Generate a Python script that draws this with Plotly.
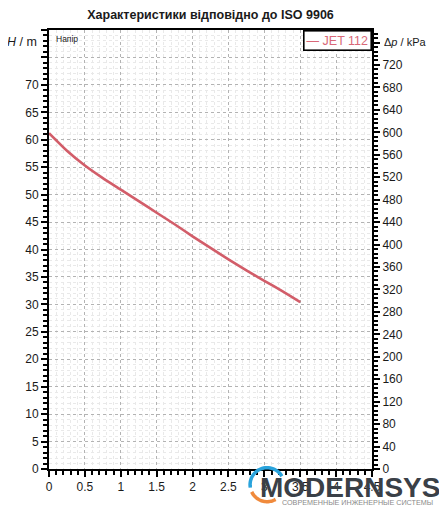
import numpy as np
import plotly.graph_objects as go

# ---- data ----
flow_q = [0.0, 0.25, 0.5, 0.75, 1.0, 1.25, 1.5, 1.75, 2.0, 2.25, 2.5, 2.75, 3.0, 3.25, 3.5]
head_h = [61.2, 58.0, 55.3, 53.0, 50.9, 48.8, 46.7, 44.6, 42.4, 40.3, 38.2, 36.2, 34.3, 32.4, 30.4]
series_name = "JET 112"
x_ticks = [0, 0.5, 1, 1.5, 2, 2.5, 3, 3.5, 4, 4.5]
x_ticktext = ["0", "0.5", "1", "1.5", "2", "2.5", "3", "3.5", "4", "4.5"]
h_ticks = list(range(0, 85, 5))
h_ticktext = [str(v) if v <= 70 else "" for v in h_ticks]
p_ticks = list(range(0, 800, 40))
p_ticktext = [str(v) if v <= 720 else "" for v in p_ticks]
KPA_PER_M = 9.779

LINE_COL = "#d25d69"
FONT = "Liberation Sans, Arial, sans-serif"
OFF = 8  # page body margin

fig = go.Figure()
fig.add_trace(go.Scatter(x=flow_q, y=head_h, mode="lines", name=series_name,
                         line=dict(color=LINE_COL, width=2.6, shape="spline", smoothing=0.6),
                         showlegend=False))
fig.add_trace(go.Scatter(x=[None], y=[None], yaxis="y2", showlegend=False))

axis_common = dict(showline=True, linecolor="black", linewidth=2,
                   ticks="outside", tickcolor="black", tickwidth=2, ticklen=6,
                   tickfont=dict(size=12, color="#1a1a1a", family=FONT),
                   zeroline=False, automargin=False)

fig.update_layout(
    width=447 - OFF, height=509 - OFF,
    margin=dict(l=49 - OFF, r=75, t=30 - OFF, b=40, autoexpand=False),
    paper_bgcolor="white", plot_bgcolor="white",
    font=dict(family=FONT),
    title=dict(text="<b>Характеристики відповідно до ISO 9906</b>",
               x=0.5, xref="paper", xanchor="center", y=1 - 7 / 501, yanchor="middle",
               font=dict(size=12.5, color="#1a1a1a", family=FONT)),
    xaxis=dict(range=[0, 4.5], tickmode="array", tickvals=x_ticks, ticktext=x_ticktext,
               showgrid=True, gridcolor="#b3b3b3", griddash="dot", gridwidth=1,
               mirror=True,
               minor=dict(dtick=0.1, tick0=0, ticklen=4, tickwidth=1.5, tickcolor="black",
                          showgrid=True, gridcolor="#e9e9e9", gridwidth=1),
               **axis_common),
    yaxis=dict(range=[0, 80], tickmode="array", tickvals=h_ticks, ticktext=h_ticktext,
               showgrid=True, gridcolor="#b3b3b3", griddash="dot", gridwidth=1,
               mirror=True,
               minor=dict(dtick=1, tick0=0, ticklen=4, tickwidth=1.5, tickcolor="black",
                          showgrid=True, gridcolor="#e9e9e9", gridwidth=1),
               **axis_common),
    yaxis2=dict(range=[0, 80 * KPA_PER_M], overlaying="y", side="right",
                tickmode="array", tickvals=p_ticks, ticktext=p_ticktext,
                showgrid=False,
                minor=dict(dtick=8, tick0=0, ticklen=4, tickwidth=1.5, tickcolor="black"),
                **axis_common),
)

def px2paper(px, py):
    return (px - 49.3) / 322.4, (469.3 - py) / 439.3

fig.add_annotation(text="<i>H</i> / m", xref="paper", yref="paper",
                   x=px2paper(39, 0)[0], y=px2paper(0, 42)[1],
                   xanchor="right", yanchor="middle", showarrow=False,
                   font=dict(size=12.5, color="#1a1a1a", family=FONT))
fig.add_annotation(text="Δ<i>p</i> / kPa", xref="paper", yref="paper",
                   x=px2paper(382, 0)[0], y=px2paper(0, 42)[1],
                   xanchor="left", yanchor="middle", showarrow=False,
                   font=dict(size=11, color="#1a1a1a", family=FONT))
fig.add_annotation(text="Напір", xref="paper", yref="paper", x=0.014, y=0.995,
                   xanchor="left", yanchor="top", showarrow=False,
                   font=dict(size=8.5, color="#1a1a1a", family=FONT))
fig.add_annotation(text="— " + series_name, xref="paper", yref="paper", x=1.0, y=1.0,
                   xanchor="right", yanchor="top", showarrow=False,
                   bgcolor="white", bordercolor="black", borderwidth=1.6, borderpad=2,
                   font=dict(size=12.5, color="#d96878", family=FONT))

# watermark
fig.add_annotation(text="<b>MODERNSYS</b>", xref="paper", yref="paper",
                   x=px2paper(350, 0)[0], y=px2paper(0, 488)[1],
                   xanchor="center", yanchor="middle", showarrow=False,
                   font=dict(size=28, color="#3a4047", family=FONT))
fig.add_annotation(text="СОВРЕМЕННЫЕ ИНЖЕНЕРНЫЕ СИСТЕМЫ", xref="paper", yref="paper",
                   x=px2paper(357, 0)[0], y=px2paper(0, 503)[1],
                   xanchor="center", yanchor="middle", showarrow=False,
                   font=dict(size=7.2, color="#8a8a8a", family=FONT))

def arc_path(cx, cy, r, a0, a1, n=30):
    ang = np.linspace(np.radians(a0), np.radians(a1), n)
    pts = [px2paper(cx + r * np.cos(a), cy - r * np.sin(a)) for a in ang]
    return "M " + " L ".join(f"{x:.4f},{y:.4f}" for x, y in pts)

fig.add_shape(type="path", xref="paper", yref="paper",
              path=arc_path(267, 485, 17, 30, 190), line=dict(color="#29a3dc", width=3.5))
fig.add_shape(type="path", xref="paper", yref="paper",
              path=arc_path(267, 485, 17, 205, 300), line=dict(color="#f08a3c", width=3.5))

fig.write_html("out.html")
